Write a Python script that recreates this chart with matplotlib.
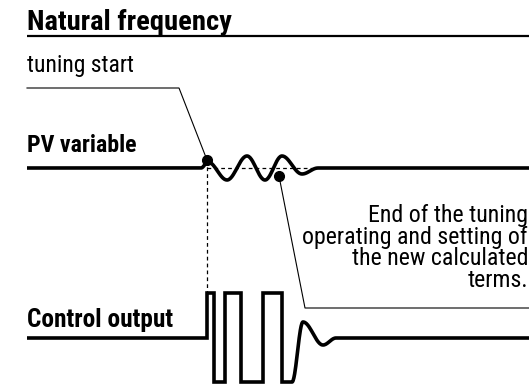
import numpy as np
import matplotlib
matplotlib.use("Agg")
import matplotlib.pyplot as plt
from matplotlib import font_manager as fm

names = {f.name for f in fm.fontManager.ttflist}
FAM = "Roboto Condensed" if "Roboto Condensed" in names else "DejaVu Sans"

# ---- data (schematic key points, pixel-space) ----
title = "Natural frequency"
label_start = "tuning start"
label_pv = "PV variable"
label_co = "Control output"
note_lines = ["End of the tuning", "operating and setting of", "the new calculated", "terms."]

pv_level = 168
pv_ext_x = [27, 201, 208, 227, 247, 265, 282, 302, 318, 529]
pv_ext_y = [168, 168, 162, 180, 156, 180, 156, 174, 168, 168]

co_base = 338
co_top = 293
co_bot = 382
co_edges = [207, 214, 225, 241, 263, 282, 292]
co_tail_x = [292, 303, 323, 336, 529]
co_tail_y = [382, 322, 345, 338, 338]

dot1 = (207, 160)
dot2 = (279, 176)


def cos_interp(xs, ys, n=30):
    X, Y = [], []
    for i in range(len(xs) - 1):
        t = np.linspace(0, 1, n)
        w = (1 - np.cos(np.pi * t)) / 2
        X.extend(xs[i] + (xs[i + 1] - xs[i]) * t)
        Y.extend(ys[i] + (ys[i + 1] - ys[i]) * w)
    return np.array(X), np.array(Y)


fig = plt.figure(figsize=(5.29, 3.85), dpi=100)
ax = fig.add_axes([0, 0, 1, 1])
ax.set_xlim(0, 529)
ax.set_ylim(385, 0)
ax.axis("off")


def txt(x, y, s, size, bold=False, ha="left"):
    return ax.text(x, y, s, family=FAM, fontsize=size,
                   fontweight="bold" if bold else "normal",
                   ha=ha, va="baseline", color="black")


# title and underline
txt(27, 30, title, 20.5, bold=True)
ax.plot([27, 529], [35.5, 35.5], color="black", lw=1.6, solid_capstyle="butt")

# tuning start label and leader
txt(27, 72, label_start, 17)
ax.plot([27, 179, dot1[0]], [88, 88, dot1[1]], color="black", lw=0.8)

# PV
txt(27, 152, label_pv, 17.2, bold=True)
px, py = cos_interp(pv_ext_x, pv_ext_y)
ax.plot(px, py, color="black", lw=2.6, solid_capstyle="butt", solid_joinstyle="round")
ax.plot([dot1[0], 312], [pv_level, pv_level], color="black", lw=0.9, ls=(0, (3, 2.5)))
ax.plot([dot1[0], dot1[0]], [dot1[1], co_top], color="black", lw=0.9, ls=(0, (3, 2.5)))
ax.plot(*dot1, "o", color="black", ms=7)
ax.plot(*dot2, "o", color="black", ms=7)

# end of tuning leader
ax.plot([dot2[0], 305, 529], [dot2[1], 308, 308], color="black", lw=0.8)
for i, s in enumerate(note_lines):
    txt(528, 222 + i * 21.7, s, 17.2, ha="right")

# control output
txt(27, 327, label_co, 18.3, bold=True)
cx = [27, co_edges[0]]
cy = [co_base, co_base]
level = co_top
cx.append(co_edges[0]); cy.append(co_top)
for i in range(1, len(co_edges)):
    cx.append(co_edges[i]); cy.append(level)
    level = co_bot if level == co_top else co_top
    cx.append(co_edges[i]); cy.append(level)
cx = cx[:-1]; cy = cy[:-1]
tx, ty = cos_interp(co_tail_x, co_tail_y)
cx = np.concatenate([cx, tx]); cy = np.concatenate([cy, ty])
ax.plot(cx, cy, color="black", lw=2.6, solid_capstyle="butt", solid_joinstyle="miter")

fig.savefig("out.png", dpi=100)
